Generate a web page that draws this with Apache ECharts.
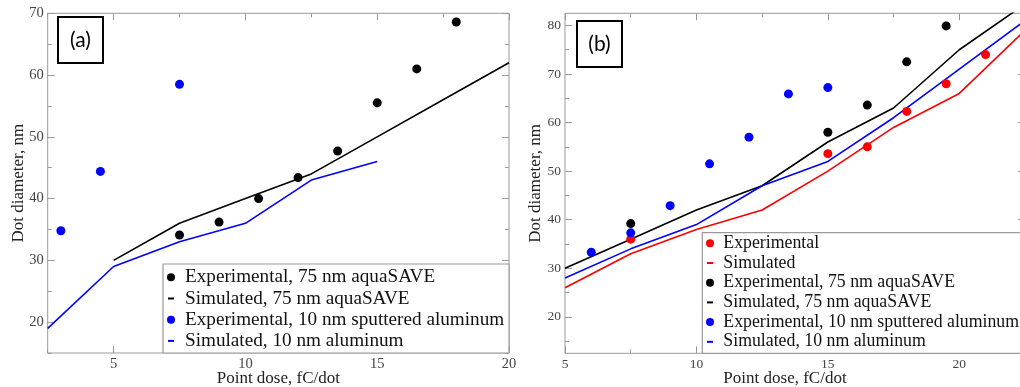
<!DOCTYPE html>
<html>
<head>
<meta charset="utf-8">
<script src="https://cdn.jsdelivr.net/npm/echarts@6/dist/echarts.min.js"></script>
<style>
  html, body { margin: 0; background: #fff; }
  #chart { width: 1020px; height: 387px; }
</style>
</head>
<body>
<div id="chart"></div>
<script>
// ---- panel (a): 75 nm aquaSAVE vs 10 nm aluminum ----
const aAquaExpDose = [7.5, 9, 10.5, 12, 13.5, 15, 16.5, 18];
const aAquaExpDiam = [34.1, 36.2, 40.0, 43.4, 47.7, 55.5, 61.0, 68.6];
const aAquaSimDose = [5, 7.5, 10, 12.5, 15, 17.5, 20];
const aAquaSimDiam = [30, 36, 40, 44, 50, 56, 62];
const aAlExpDose = [3, 4.5, 7.5];
const aAlExpDiam = [34.8, 44.4, 58.5];
const aAlSimDose = [2.5, 5, 7.5, 10, 12.5, 15];
const aAlSimDiam = [19, 29, 33, 36, 43, 46];

// ---- panel (b) ----
const bExpDose = [7.5, 15, 16.5, 18, 19.5, 21];
const bExpDiam = [36.0, 53.6, 55.0, 62.3, 68.0, 74.0];
const bSimDose = [5, 7.5, 10, 12.5, 15, 17.5, 20, 22.5];
const bSimDiam = [26, 33, 38, 42, 50, 59, 66, 79];
const bAquaExpDose = [7.5, 15, 16.5, 18, 19.5];
const bAquaExpDiam = [39.2, 58.0, 63.6, 72.5, 79.9];
const bAquaSimDiam = [30, 36, 42, 47, 56, 63, 75, 84.4];
const bAlExpDose = [6, 7.5, 9, 10.5, 12, 13.5, 15];
const bAlExpDiam = [33.3, 37.3, 42.9, 51.5, 57.0, 65.9, 67.2];
const bAlSimDiam = [28, 34, 39, 47, 52, 61, 71, 81];

// tick positions
const aDoseMajor = [5, 10, 15, 20];
const aDoseMinor = [2.5, 7.5, 12.5, 17.5];
const aDiamMajor = [20, 30, 40, 50, 60, 70];
const aDiamMinor = [15, 25, 35, 45, 55, 65];
const bDoseMajor = [5, 10, 15, 20];
const bDoseMinor = [7.5, 12.5, 17.5, 22.5];
const bDiamMajor = [20, 30, 40, 50, 60, 70, 80];
const bDiamMinor = [15, 25, 35, 45, 55, 65, 75];

const NAME_SIM_AQUA = 'Simulated, 75 nm aquaSAVE';
const NAME_EXP_AQUA = 'Experimental, 75 nm aquaSAVE';
const NAME_EXP_AL = 'Experimental, 10 nm sputtered aluminum';
const NAME_SIM_AL = 'Simulated, 10 nm aluminum';

const SERIF = 'Liberation Serif';
const GREY = '#9a9a9a';

const pairs = (xs, ys) => xs.map((x, i) => [x, ys[i]]);

// one tick-only axis; the labelled ones get extra settings merged in
function axis(gridIndex, min, max, position, ticks, len, extra) {
  return Object.assign({
    gridIndex, type: 'value', min, max, position,
    axisLine: { show: false },
    axisTick: { show: true, inside: true, length: len, customValues: ticks,
                lineStyle: { color: GREY, width: 1 } },
    axisLabel: { show: false },
    splitLine: { show: false },
  }, extra || {});
}

function labelled(fs, values, name, nameGap, namePad) {
  return {
    axisLabel: { show: true, customValues: values, margin: 4,
                 fontFamily: SERIF, fontSize: fs, color: '#444' },
    name, nameLocation: 'middle', nameGap, nameMoveOverlap: false,
    nameTextStyle: { fontFamily: SERIF, fontSize: 17, color: '#222', padding: namePad || 0 },
  };
}

function scatter(name, data, color, xi, yi) {
  return { name, type: 'scatter', data, xAxisIndex: xi, yAxisIndex: yi,
           symbolSize: 9, itemStyle: { color, opacity: 1 }, z: 4 };
}
function line(name, data, color, xi, yi) {
  return { name, type: 'line', data, xAxisIndex: xi, yAxisIndex: yi,
           symbol: 'none', showSymbol: false, itemStyle: { color },
           lineStyle: { color, width: 1.6 }, z: 3 };
}

// one legend per row so circles and dashes can have their own size
function legendRow(name, isLine, iconCx, cy, fs, textGap) {
  const w = isLine ? 6 : 8, h = isLine ? 2 : 8;
  return {
    data: [name], orient: 'vertical', left: iconCx - w / 2, top: cy - 10,
    padding: 0, itemGap: 0, itemWidth: w, itemHeight: h,
    icon: isLine ? 'rect' : 'circle', selectedMode: false,
    textStyle: { fontFamily: SERIF, fontSize: fs, color: '#111', lineHeight: 20,
                 padding: [0, 0, 0, textGap - w / 2 - 5] },
  };
}

const aLegend = [
  [NAME_EXP_AQUA, false], [NAME_SIM_AQUA, true], [NAME_EXP_AL, false], [NAME_SIM_AL, true],
].map(([n, l], i) => legendRow(n, l, 171, 277.3 + i * 21.2, 19.2, 14));
const bLegend = [
  ['Experimental', false], ['Simulated', true],
  [NAME_EXP_AQUA, false], [NAME_SIM_AQUA, true], [NAME_EXP_AL, false], [NAME_SIM_AL, true],
].map(([n, l], i) => legendRow(n, l, 710, 243.3 + i * 19.7, 17.8, 13.3));

function tagBox(x, y, text) {
  return [
    { type: 'rect', shape: { x, y, width: 45, height: 46 },
      style: { fill: '#fff', stroke: '#000', lineWidth: 2 }, z: 10 },
    { type: 'text', x: x + 22.5, y: y + 23, z: 11,
      style: { text, fill: '#000', font: '21px Lato', align: 'center', verticalAlign: 'middle' } },
  ];
}

const chart = echarts.init(document.getElementById('chart'), null, { renderer: 'canvas' });

const gridBase = { show: true, borderColor: GREY, borderWidth: 1, backgroundColor: 'transparent',
                   containLabel: false, outerBoundsMode: 'none' };

chart.setOption({
  animation: false,
  backgroundColor: '#fff',
  grid: [
    Object.assign({ left: 47.7, top: 13.3, width: 461.3, height: 339.7 }, gridBase),
    Object.assign({ left: 565, top: 13.3, width: 460, height: 340 }, gridBase),
  ],
  xAxis: [
    axis(0, 2.5, 20, 'bottom', aDoseMajor, 7, labelled(14.5, aDoseMajor, 'Point dose, fC/dot', 17)),
    axis(0, 2.5, 20, 'bottom', aDoseMinor, 4),
    axis(0, 2.5, 20, 'top', aDoseMajor, 7),
    axis(0, 2.5, 20, 'top', aDoseMinor, 4),
    axis(1, 5, 22.5, 'bottom', bDoseMajor, 7,
         labelled(13.5, bDoseMajor, 'Point dose, fC/dot', 17, [0, 20, 0, 0])),
    axis(1, 5, 22.5, 'bottom', bDoseMinor, 4),
    axis(1, 5, 22.5, 'top', bDoseMajor, 7),
    axis(1, 5, 22.5, 'top', bDoseMinor, 4),
  ],
  yAxis: [
    axis(0, 15, 70, 'left', aDiamMajor, 7, labelled(14.5, aDiamMajor, 'Dot diameter, nm', 21)),
    axis(0, 15, 70, 'left', aDiamMinor, 4),
    axis(0, 15, 70, 'right', aDiamMajor, 7),
    axis(0, 15, 70, 'right', aDiamMinor, 4),
    axis(1, 12.5, 82.5, 'left', bDiamMajor, 7, labelled(13.5, bDiamMajor, 'Dot diameter, nm', 20.5)),
    axis(1, 12.5, 82.5, 'left', bDiamMinor, 4),
    axis(1, 12.5, 82.5, 'right', bDiamMajor, 7),
    axis(1, 12.5, 82.5, 'right', bDiamMinor, 4),
  ],
  legend: aLegend.concat(bLegend),
  graphic: [
    { type: 'rect', shape: { x: 163, y: 264, width: 346, height: 89 },
      style: { fill: '#fff', stroke: GREY, lineWidth: 1.2 }, z: 1 },
    { type: 'rect', shape: { x: 702.3, y: 232.7, width: 340, height: 120.6 },
      style: { fill: '#fff', stroke: GREY, lineWidth: 1.2 }, z: 1 },
  ].concat(tagBox(58, 17, '(a)'), tagBox(577, 21, '(b)')),
  series: [
    line(NAME_SIM_AQUA, pairs(aAquaSimDose, aAquaSimDiam), '#000', 0, 0),
    line(NAME_SIM_AL, pairs(aAlSimDose, aAlSimDiam), '#0000ff', 0, 0),
    scatter(NAME_EXP_AQUA, pairs(aAquaExpDose, aAquaExpDiam), '#000', 0, 0),
    scatter(NAME_EXP_AL, pairs(aAlExpDose, aAlExpDiam), '#0000ff', 0, 0),

    line('Simulated', pairs(bSimDose, bSimDiam), '#ff0000', 4, 4),
    line(NAME_SIM_AQUA, pairs(bSimDose, bAquaSimDiam), '#000', 4, 4),
    line(NAME_SIM_AL, pairs(bSimDose, bAlSimDiam), '#0000ff', 4, 4),
    scatter('Experimental', pairs(bExpDose, bExpDiam), '#ff0000', 4, 4),
    scatter(NAME_EXP_AQUA, pairs(bAquaExpDose, bAquaExpDiam), '#000', 4, 4),
    scatter(NAME_EXP_AL, pairs(bAlExpDose, bAlExpDiam), '#0000ff', 4, 4),
  ],
});
</script>
</body>
</html>
